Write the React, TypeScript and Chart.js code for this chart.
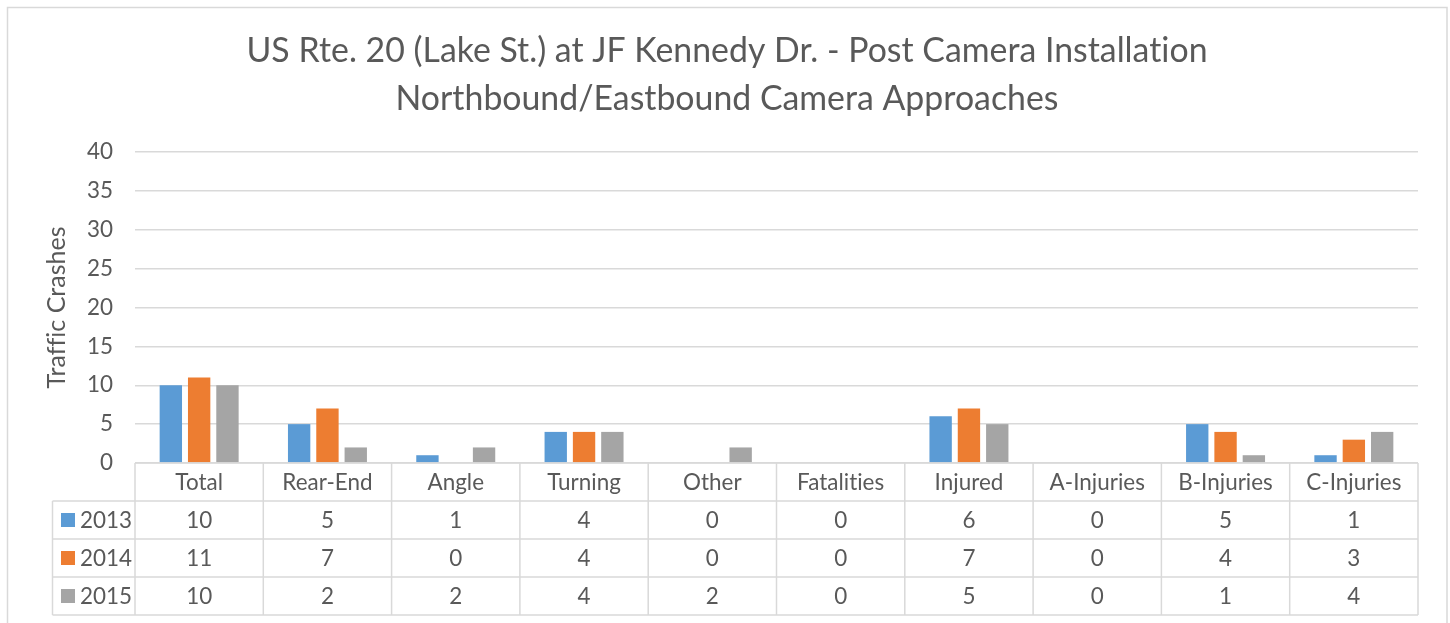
import React, { useEffect, useRef } from "react";
import { Chart, registerables } from "chart.js";
Chart.register(...registerables);

const categories = ["Total", "Rear-End", "Angle", "Turning", "Other", "Fatalities", "Injured", "A-Injuries", "B-Injuries", "C-Injuries"];
const seriesNames = ["2013", "2014", "2015"];
const values2013 = [10, 5, 1, 4, 0, 0, 6, 0, 5, 1];
const values2014 = [11, 7, 0, 4, 0, 0, 7, 0, 4, 3];
const values2015 = [10, 2, 2, 4, 2, 0, 5, 0, 1, 4];
const seriesColors = ["#5B9BD5", "#ED7D31", "#A5A5A5"];
const yMin = 0;
const yMax = 40;
const yStep = 5;
const titleLines = [
  "US Rte. 20 (Lake St.) at JF Kennedy Dr. - Post Camera Installation",
  "Northbound/Eastbound Camera Approaches",
];
const yAxisTitle = "Traffic Crashes";

const FAMILY = "Lato, 'Open Sans', sans-serif";
const TEXT = "#595959";
const LINE = "#D9D9D9";

function fitSize(ctx: CanvasRenderingContext2D, text: string, target: number) {
  ctx.font = `100px ${FAMILY}`;
  (ctx as any).letterSpacing = "0.01px";
  const w = ctx.measureText(text).width;
  return (100 * target) / w;
}

export default function App() {
  const ref = useRef<HTMLCanvasElement | null>(null);
  useEffect(() => {
    const canvas = ref.current!;
    const mctx = canvas.getContext("2d")!;
    const titleSize = fitSize(mctx, titleLines[0], 961);
    const labelSize = fitSize(mctx, "Fatalities", 87);
    const yTitleSize = fitSize(mctx, yAxisTitle, 162);
    const series = [values2013, values2014, values2015];

    const overlay = {
      id: "overlay",
      beforeDraw(chart: any) {
        const ctx = chart.ctx as CanvasRenderingContext2D;
        ctx.save();
        ctx.fillStyle = "#fff";
        ctx.fillRect(0, 0, chart.width, chart.height);
        ctx.strokeStyle = LINE;
        ctx.lineWidth = 1.5;
        ctx.strokeRect(7.5, 7.5, 1439.5, 700);
        ctx.restore();
      },
      afterDraw(chart: any) {
        const ctx = chart.ctx as CanvasRenderingContext2D;
        const area = chart.chartArea;
        ctx.save();
        (ctx as any).letterSpacing = "0.01px";
        // Title
        ctx.fillStyle = TEXT;
        ctx.textAlign = "center";
        ctx.textBaseline = "alphabetic";
        ctx.font = `${titleSize}px ${FAMILY}`;
        ctx.fillText(titleLines[0], 727, 61.5);
        ctx.fillText(titleLines[1], 727, 109.5);
        // Y title
        ctx.save();
        ctx.translate(57, (area.top + area.bottom) / 2);
        ctx.rotate(-Math.PI / 2);
        ctx.font = `${yTitleSize}px ${FAMILY}`;
        ctx.textBaseline = "middle";
        ctx.fillText(yAxisTitle, 0, 0);
        ctx.restore();

        // Data table
        const n = categories.length;
        const cw = (area.right - area.left) / n;
        const rowH = 38;
        const labelLeft = 52.5;
        const top = area.bottom;
        ctx.strokeStyle = LINE;
        ctx.lineWidth = 1.5;
        ctx.beginPath();
        ctx.moveTo(area.left, top);
        ctx.lineTo(area.right, top);
        for (let k = 1; k <= 4; k++) {
          ctx.moveTo(labelLeft, top + k * rowH);
          ctx.lineTo(area.right, top + k * rowH);
        }
        for (let i = 0; i <= n; i++) {
          const x = area.left + i * cw;
          ctx.moveTo(x, top);
          ctx.lineTo(x, top + 4 * rowH);
        }
        ctx.moveTo(labelLeft, top + rowH);
        ctx.lineTo(labelLeft, top + 4 * rowH);
        ctx.stroke();

        ctx.font = `${labelSize}px ${FAMILY}`;
        ctx.fillStyle = TEXT;
        ctx.textBaseline = "middle";
        ctx.textAlign = "center";
        const xs = chart.scales.x;
        categories.forEach((c, i) => {
          const cx = xs.getPixelForValue(i);
          ctx.fillText(c, cx, top + rowH / 2 + 1);
          series.forEach((s, r) => {
            ctx.fillText(String(s[i]), cx, top + (r + 1.5) * rowH + 1);
          });
        });
        ctx.textAlign = "left";
        seriesNames.forEach((name, r) => {
          const cy = top + (r + 1.5) * rowH;
          ctx.fillStyle = seriesColors[r];
          ctx.fillRect(61, cy - 7, 14, 14);
          ctx.fillStyle = TEXT;
          ctx.fillText(name, 80, cy + 1);
        });
        ctx.restore();
      },
    };

    const chart = new Chart(canvas, {
      type: "bar",
      data: {
        labels: categories,
        datasets: seriesNames.map((name, i) => ({
          label: name,
          data: series[i],
          backgroundColor: seriesColors[i],
          borderWidth: 0,
          categoryPercentage: 0.662,
          barPercentage: 0.79,
        })),
      },
      options: {
        responsive: false,
        animation: false,
        devicePixelRatio: 1,
        layout: { padding: { left: 0, top: 152, right: 32, bottom: 160 } },
        plugins: {
          legend: { display: false },
          title: { display: false },
          tooltip: { enabled: false },
        },
        scales: {
          x: { display: false },
          y: {
            min: yMin,
            max: yMax,
            ticks: {
              stepSize: yStep,
              padding: 22,
              color: TEXT,
              font: { family: FAMILY, size: labelSize },
            },
            grid: { color: LINE, lineWidth: 1.5, drawTicks: false },
            border: { display: false },
            afterFit(scale: any) {
              scale.width = 135;
            },
          },
        },
      },
      plugins: [overlay],
    } as any);
    return () => chart.destroy();
  }, []);
  return (
    <div style={{ position: "absolute", left: 0, top: 0, width: 1450, height: 623 }}>
      <canvas ref={ref} width={1450} height={623} style={{ width: 1450, height: 623, display: "block" }} />
    </div>
  );
}
